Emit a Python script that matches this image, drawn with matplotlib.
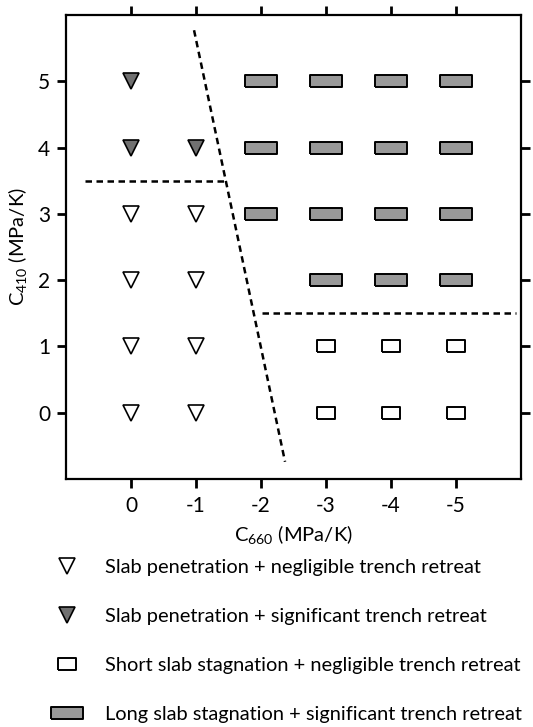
import matplotlib.pyplot as plt
from matplotlib.lines import Line2D

plt.rcParams['font.family'] = ['Lato', 'DejaVu Sans']

# --- data ---
c660_ticks = [0, -1, -2, -3, -4, -5]
c410_ticks = [0, 1, 2, 3, 4, 5]

# slab penetration + negligible trench retreat
pen_neg_x = [0, 0, 0, 0, -1, -1, -1, -1]
pen_neg_y = [0, 1, 2, 3, 0, 1, 2, 3]
# slab penetration + significant trench retreat
pen_sig_x = [0, 0, -1]
pen_sig_y = [4, 5, 4]
# short slab stagnation + negligible trench retreat
short_x = [-3, -4, -5, -3, -4, -5]
short_y = [0, 0, 0, 1, 1, 1]
# long slab stagnation + significant trench retreat
long_x = [-2, -2, -2, -3, -3, -3, -3, -4, -4, -4, -4, -5, -5, -5, -5]
long_y = [3, 4, 5, 2, 3, 4, 5, 2, 3, 4, 5, 2, 3, 4, 5]

# regime boundaries (dashed)
bound_slant_x = [-0.97, -2.37]
bound_slant_y = [5.77, -0.74]
bound_upper_x = [0.71, -1.46]
bound_upper_y = [3.5, 3.5]
bound_lower_x = [-2.02, -5.92]
bound_lower_y = [1.5, 1.5]

labels = ['Slab penetration + negligible trench retreat',
          'Slab penetration + significant trench retreat',
          'Short slab stagnation + negligible trench retreat',
          'Long slab stagnation + significant trench retreat']

# rectangle marker shapes
long_box = [(-1.4, -0.5), (1.4, -0.5), (1.4, 0.5), (-1.4, 0.5), (-1.4, -0.5)]
short_box = [(-0.75, -0.5), (0.75, -0.5), (0.75, 0.5), (-0.75, 0.5), (-0.75, -0.5)]

tri_open = dict(marker='v', ms=12, mfc='white', mec='black', mew=1.2, ls='none')
tri_fill = dict(marker='v', ms=12, mfc='#707070', mec='black', mew=1.2, ls='none')
box_short = dict(marker=short_box, ms=12.5, mfc='white', mec='black', mew=1.4, ls='none')
box_long = dict(marker=long_box, ms=22.5, mfc='#999999', mec='black', mew=1.4, ls='none')

fig = plt.figure(figsize=(5.33, 7.27), dpi=100)
ax = fig.add_axes([0.1238, 0.3411, 0.8537, 0.6383])

ax.plot(pen_neg_x, pen_neg_y, **tri_open)
ax.plot(pen_sig_x, pen_sig_y, **tri_fill)
ax.plot(short_x, short_y, **box_short)
ax.plot(long_x, long_y, **box_long)

for bx, by in [(bound_slant_x, bound_slant_y), (bound_upper_x, bound_upper_y),
               (bound_lower_x, bound_lower_y)]:
    ax.plot(bx, by, color='black', lw=1.8, ls=(0, (2.6, 1.8)))

ax.set_xlim(1, -6)
ax.set_ylim(-1, 6)
ax.set_xticks(c660_ticks)
ax.set_xticklabels([str(v) for v in c660_ticks])
ax.set_yticks(c410_ticks)
ax.tick_params(direction='out', length=6.5, width=2.0, labelsize=15, pad=6,
               top=True, right=True, labeltop=False, labelright=False)
ax.tick_params(axis='y', pad=5)
for s in ax.spines.values():
    s.set_linewidth(1.6)

ax.set_xlabel(r'C$_{\mathregular{660}}$ (MPa/K)', fontsize=14.5, labelpad=5)
ax.set_ylabel(r'C$_{\mathregular{410}}$ (MPa/K)', fontsize=14.5, labelpad=6)

handles = [Line2D([], [], **tri_open), Line2D([], [], **tri_fill),
           Line2D([], [], **box_short), Line2D([], [], **box_long)]
fig.legend(handles, labels, loc='upper left', bbox_to_anchor=(0.07, 0.245),
           frameon=False, fontsize=14.4, labelspacing=1.6, handletextpad=0.9,
           handlelength=2.0, borderpad=0)

plt.savefig('out.png', dpi=100)
